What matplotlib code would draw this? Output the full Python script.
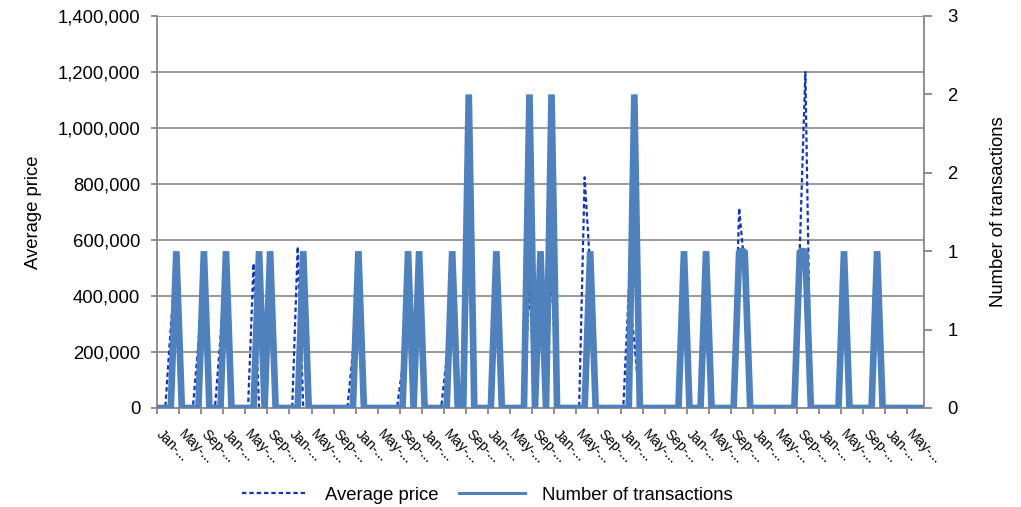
import matplotlib
matplotlib.use("Agg")
import matplotlib.pyplot as plt
from matplotlib.lines import Line2D
from matplotlib.ticker import FuncFormatter
from matplotlib.transforms import ScaledTranslation
import numpy as np

plt.rcParams['font.family'] = ['Liberation Sans', 'DejaVu Sans']

# ---------------- data ----------------
month_names = ["Jan", "Feb", "Mar", "Apr", "May", "Jun",
               "Jul", "Aug", "Sep", "Oct", "Nov", "Dec"]
n_months = 139
categories = [f"{month_names[i % 12]}-..." for i in range(n_months)]

number_of_transactions = [
    0, 0, 0, 1, 0, 0, 0, 0, 1, 0,
    0, 0, 1, 0, 0, 0, 0, 0, 1, 0,
    1, 0, 0, 0, 0, 0, 1, 0, 0, 0,
    0, 0, 0, 0, 0, 0, 1, 0, 0, 0,
    0, 0, 0, 0, 0, 1, 0, 1, 0, 0,
    0, 0, 0, 1, 0, 0, 2, 0, 0, 0,
    0, 1, 0, 0, 0, 0, 0, 2, 0, 1,
    0, 2, 0, 0, 0, 0, 0, 0, 1, 0,
    0, 0, 0, 0, 0, 0, 2, 0, 0, 0,
    0, 0, 0, 0, 0, 1, 0, 0, 0, 1,
    0, 0, 0, 0, 0, 1, 1, 0, 0, 0,
    0, 0, 0, 0, 0, 0, 1, 1, 0, 0,
    0, 0, 0, 0, 1, 0, 0, 0, 0, 0,
    1, 0, 0, 0, 0, 0, 0, 0, 0,
]

average_price = [
    0, 0, 290000, 540000, 0, 0, 0, 230000, 540000, 0,
    0, 250000, 540000, 0, 0, 0, 0, 516000, 0, 0,
    540000, 0, 0, 0, 0, 576000, 0, 0, 0, 0,
    0, 0, 0, 0, 0, 200000, 540000, 0, 0, 0,
    0, 0, 0, 0, 150000, 540000, 0, 540000, 0, 0,
    0, 0, 180000, 540000, 0, 0, 560000, 0, 0, 0,
    0, 350000, 0, 0, 0, 0, 0, 450000, 0, 480000,
    0, 500000, 0, 0, 0, 0, 0, 824000, 500000, 0,
    0, 0, 0, 0, 0, 420000, 240000, 0, 0, 0,
    0, 0, 0, 0, 0, 500000, 0, 0, 0, 300000,
    0, 0, 0, 0, 0, 714000, 497000, 0, 0, 0,
    0, 0, 0, 0, 0, 0, 575000, 1200000, 0, 0,
    0, 0, 0, 0, 500000, 0, 0, 0, 0, 0,
    500000, 0, 0, 0, 0, 0, 0, 0, 0,
]

left_ticks = [0, 200000, 400000, 600000, 800000, 1000000, 1200000, 1400000]
right_ticks = [0, 0.5, 1.0, 1.5, 2.0, 2.5]
label_step = 4

# ---------------- figure ----------------
W, H = 1021, 507
fig = plt.figure(figsize=(W / 100, H / 100), dpi=100)
L, R, T, B = 157, 924, 16, 408
ax = fig.add_axes([L / W, 1 - B / H, (R - L) / W, (B - T) / H])
ax2 = ax.twinx()

grey = '#8f8f8f'
price_color = '#1534b8'
count_color = '#4f81bd'
fs = 13.3

x = np.arange(n_months)
ax.plot(x, average_price, color=price_color, lw=1.6,
        ls=(0, (2.0, 1.3)), zorder=2)
ax2.plot(x, number_of_transactions, color=count_color, lw=4.8,
         solid_joinstyle='bevel', zorder=2)

ax.set_xlim(-0.5, n_months - 0.5)
ax.set_ylim(left_ticks[0], left_ticks[-1])
ax2.set_ylim(right_ticks[0], right_ticks[-1])

ax.set_yticks(left_ticks)
ax.yaxis.set_major_formatter(FuncFormatter(lambda v, p: f"{int(round(v)):,}"))
ax2.set_yticks(right_ticks)
ax2.yaxis.set_major_formatter(FuncFormatter(lambda v, p: f"{int(v + 0.5)}"))

ax.grid(axis='y', color='#9a9a9a', lw=1.4)
ax.set_axisbelow(True)

# x ticks: marks at category boundaries, labels at every 4th category
ax.set_xticks(np.arange(-0.5, n_months, label_step))
ax.set_xticklabels([])
lab_pos = list(range(0, n_months, label_step))
ax.set_xticks(lab_pos, minor=True)
ax.set_xticklabels([categories[i] for i in lab_pos], minor=True,
                   rotation=-45, ha='left', va='top',
                   rotation_mode='anchor', fontsize=10)
ax.tick_params(axis='x', which='major', direction='out', length=4,
               width=1.4, color=grey)
ax.tick_params(axis='x', which='minor', length=0, pad=14)
shift = ScaledTranslation(4 / 100, 0, fig.dpi_scale_trans)
for lab in ax.get_xticklabels(minor=True):
    lab.set_transform(lab.get_transform() + shift)

ax.tick_params(axis='y', direction='out', length=4, width=1.4, color=grey,
               labelsize=fs, pad=8)
ax2.tick_params(axis='y', direction='out', length=6, width=1.4, color=grey,
                labelsize=fs, pad=11)

for a in (ax, ax2):
    for s in a.spines.values():
        s.set_visible(False)
ax.spines['left'].set_visible(True)
ax.spines['bottom'].set_visible(True)
ax2.spines['right'].set_visible(True)
for s in (ax.spines['left'], ax.spines['bottom'], ax2.spines['right']):
    s.set_color(grey)
    s.set_linewidth(1.4)

ax.set_ylabel('Average price', fontsize=fs)
ax.yaxis.set_label_coords((42 - L) / (R - L), 0.5)
ax2.set_ylabel('Number of transactions', fontsize=fs)
ax2.yaxis.set_label_coords((990 - L) / (R - L), 0.5)

handles = [Line2D([], [], color=price_color, lw=1.6, ls=(0, (2.0, 1.3))),
           Line2D([], [], color=count_color, lw=2.2)]
fig.legend(handles, ['Average price', 'Number of transactions'],
           loc='center', bbox_to_anchor=(487 / W, 1 - 495 / H), ncol=2,
           frameon=False, fontsize=fs, handlelength=3.6,
           columnspacing=1.1, handletextpad=0.9)

fig.savefig('out.png', dpi=100)
